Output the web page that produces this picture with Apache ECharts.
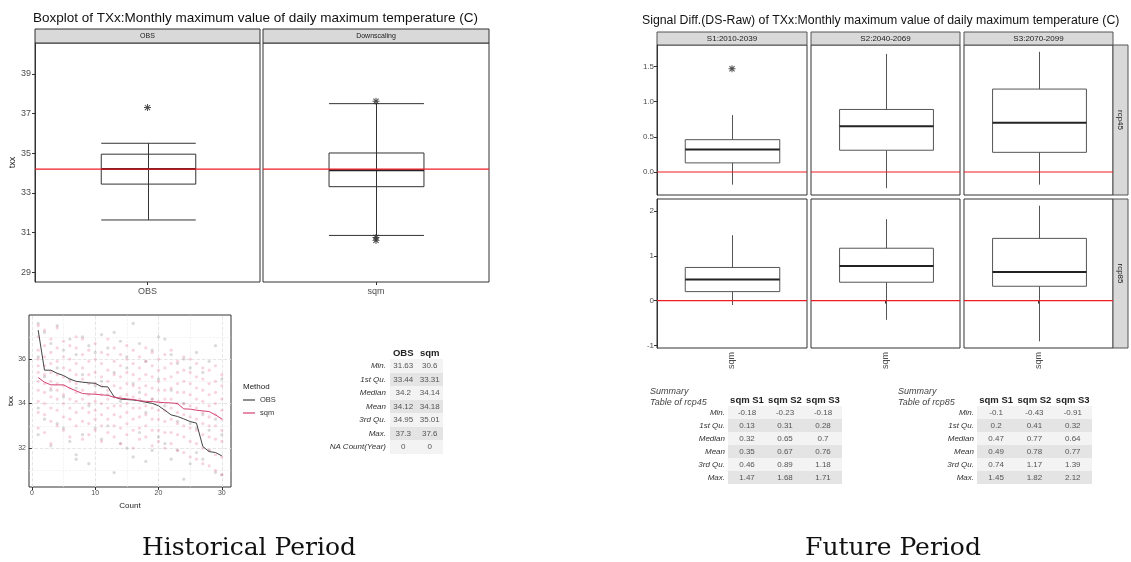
<!DOCTYPE html>
<html><head><meta charset="utf-8">
<script src="https://cdn.jsdelivr.net/npm/echarts@6/dist/echarts.min.js"></script>
<style>
html,body{margin:0;padding:0;background:#fff;}
#wrap{position:relative;width:1131px;height:562px;overflow:hidden;background:#fff;}
#chart{position:absolute;left:0;top:0;width:1131px;height:562px;}
table.st{position:absolute;border-collapse:collapse;table-layout:fixed;font-family:'Liberation Sans',Arial,sans-serif;font-size:8px;color:#555;}
table.st td,table.st th{padding:0;text-align:center;white-space:nowrap;overflow:visible;}
table.st th{font-weight:bold;color:#222;font-size:9.5px;}
table.st td.lab{text-align:right;font-style:italic;color:#333;}
table.st tr.r0 td.v{background:#f3f3f3;}
table.st tr.r1 td.v{background:#e4e4e4;}
.cap{position:absolute;font-family:'Liberation Sans',Arial,sans-serif;font-style:italic;font-size:9px;color:#444;line-height:11px;white-space:nowrap;}
</style></head>
<body><div id="wrap"><div id="chart"></div></div>
<script>
// ---------------- DATA ----------------
const histPanels = ['OBS', 'Downscaling'];
const histCategories = ['OBS', 'sqm'];
const obsBox = [31.63, 33.44, 34.2, 34.95, 35.5];      // min, q1, median, q3, max (whisker)
const sqmBox = [30.85, 33.31, 34.14, 35.01, 37.5];
const obsOutliers = [37.3];
const sqmOutliers = [37.62, 30.75, 30.6];
const histRefLine = 34.2;
const histTicks = [29, 31, 33, 35, 37, 39];

const countX = [1,2,3,4,5,6,7,8,9,10,11,12,13,14,15,16,17,18,19,20,21,22,23,24,25,26,27,28,29,30];
const obsSorted = [37.3,35.5,35.5,35.36,35.26,35.1,35.0,34.96,34.93,34.91,34.76,34.75,34.3,34.2,34.18,34.16,34.12,34.06,34.01,33.9,33.7,33.49,33.42,33.31,33.19,33.12,32.07,31.84,31.8,31.65];
const sqmSorted = [35.17,34.96,34.84,34.84,34.84,34.69,34.57,34.45,34.43,34.42,34.39,34.37,34.28,34.24,34.21,34.18,34.13,34.1,34.09,34.06,34.04,34.03,34.0,33.76,33.75,33.7,33.67,33.64,33.49,33.31];
const sqmPoints = [
 [37.5,37.0,36.4,36.0,35.7,35.4,35.0,34.6,34.1,33.6,32.9],
 [37.3,36.6,36.1,35.7,35.3,34.9,34.5,34.0,33.5,32.7],
 [36.9,36.3,35.8,35.4,35.0,34.7,34.3,33.8,33.2,32.2],
 [37.4,36.5,35.9,35.3,34.9,34.6,34.2,33.7,33.0],
 [36.8,36.1,35.6,35.2,34.8,34.4,34.0,33.4,32.8],
 [36.6,36.0,35.5,35.0,34.7,34.2,33.8,33.3,32.5],
 [37.0,36.5,35.8,35.3,34.9,34.5,34.1,33.6,33.0],
 [36.9,36.2,35.6,35.1,34.6,34.2,33.8,33.2,32.4],
 [36.4,35.9,35.3,34.9,34.4,34.0,33.6,33.1,32.6],
 [36.7,36.0,35.4,34.9,34.5,34.1,33.7,33.3,32.8],
 [36.3,35.8,35.2,34.8,34.4,34.0,33.5,33.0,32.3],
 [36.9,36.2,35.5,35.0,34.6,34.2,33.8,33.3,32.7],
 [36.5,35.9,35.3,34.8,34.3,33.9,33.5,33.0,32.5],
 [36.2,35.7,35.2,34.7,34.3,33.9,33.4,32.9,32.2],
 [36.6,36.0,35.4,34.9,34.4,34.0,33.6,33.1,32.6],
 [36.4,35.8,35.3,34.8,34.3,33.8,33.3,32.8,32.0],
 [36.1,35.6,35.1,34.7,34.2,33.8,33.4,32.9,32.4],
 [36.5,35.9,35.3,34.8,34.4,33.9,33.5,33.0,32.5],
 [36.3,35.7,35.2,34.7,34.2,33.8,33.3,32.8,32.1],
 [36.0,35.5,35.0,34.6,34.1,33.7,33.3,32.8,32.3],
 [36.2,35.6,35.1,34.6,34.2,33.7,33.2,32.7,32.0],
 [36.4,35.8,35.2,34.7,34.2,33.8,33.3,32.7,32.2],
 [35.9,35.4,34.9,34.5,34.0,33.6,33.1,32.6,31.9],
 [36.1,35.5,35.0,34.5,34.0,33.5,33.0,32.5,31.8],
 [36.0,35.4,34.9,34.4,33.9,33.4,32.9,32.3,31.6],
 [35.8,35.2,34.7,34.2,33.8,33.3,32.8,32.2,31.5],
 [35.6,35.1,34.6,34.1,33.6,33.1,32.6,32.0,31.3],
 [35.5,34.9,34.4,33.9,33.4,33.0,32.5,31.9,31.2],
 [35.7,35.0,34.5,34.0,33.5,33.0,32.4,31.7,31.0],
 [35.3,34.8,34.2,33.7,33.3,32.8,32.3,31.6,30.8]
];
const greyPoints = [
 [37.6,36.1,33.8,32.6],[37.2,35.2,33.3],[36.7,34.6,32.1],[37.5,35.6,33.1],[36.4,34.3,32.9],
 [36.9,35.1,32.3],[36.2,34.7,31.7,31.5],[37.0,35.3,32.6],[36.6,33.9,31.3],[36.3,34.8,32.9],
 [37.1,35.0,32.4],[36.5,34.4,33.0],[37.2,35.4,30.9],[36.8,34.1,32.2],[36.1,35.6,32.0],
 [37.6,34.9,31.6],[36.7,34.5,32.7],[35.9,33.6,31.4],[36.4,34.2,31.9],[37.0,35.1,32.5],
 [36.9,33.9,32.2],[36.2,34.6,31.5],[35.8,33.2,31.9],[36.0,34.0,30.6],[35.6,33.1,31.3],
 [36.3,32.9,31.8],[35.4,33.5,31.5],[35.9,32.8,31.9],[36.6,33.3,30.9],[35.1,32.6,30.8]
];
const scatterXTicks = [0, 10, 20, 30];
const scatterYTicks = [32, 34, 36];
const scatterXMinor = [5, 15, 25];
const scatterYMinor = [31, 33, 35, 37];

const futPeriods = ['S1:2010-2039', 'S2:2040-2069', 'S3:2070-2099'];
const futScenarios = ['rcp45', 'rcp85'];
const futCategory = ['sqm'];
const rcp45Box = [[-0.18,0.13,0.32,0.46,0.81],[-0.23,0.31,0.65,0.89,1.68],[-0.18,0.28,0.7,1.18,1.71]];
const rcp85Box = [[-0.1,0.2,0.47,0.74,1.46],[-0.43,0.41,0.77,1.17,1.82],[-0.91,0.32,0.64,1.39,2.12]];
const rcp45Outliers = [[1.47], [], []];
const rcp85Outliers = [[], [], []];
const futRefLine = 0;
const rcp45Ticks = [0, 0.5, 1, 1.5];
const rcp85Ticks = [-1, 0, 1, 2];

const histStatLabels = ['Min.','1st Qu.','Median','Mean','3rd Qu.','Max.','NA Count(Year)'];
const histStatObs = ['31.63','33.44','34.2','34.12','34.95','37.3','0'];
const histStatSqm = ['30.6','33.31','34.14','34.18','35.01','37.6','0'];
const futStatLabels = ['Min.','1st Qu.','Median','Mean','3rd Qu.','Max.'];
const futStatHeaders = ['sqm S1','sqm S2','sqm S3'];
const rcp45StatS1 = ['-0.18','0.13','0.32','0.35','0.46','1.47'];
const rcp45StatS2 = ['-0.23','0.31','0.65','0.67','0.89','1.68'];
const rcp45StatS3 = ['-0.18','0.28','0.7','0.76','1.18','1.71'];
const rcp85StatS1 = ['-0.1','0.2','0.47','0.49','0.74','1.45'];
const rcp85StatS2 = ['-0.43','0.41','0.77','0.78','1.17','1.82'];
const rcp85StatS3 = ['-0.91','0.32','0.64','0.77','1.39','2.12'];

const histTitle = 'Boxplot of TXx:Monthly maximum value of daily maximum temperature (C)';
const futTitle = 'Signal Diff.(DS-Raw) of TXx:Monthly maximum value of daily maximum temperature (C)';

// ---------------- TABLES (HTML) ----------------
function buildTable(left, top, labW, labPad, colW, headers, labels, cols, rowH, headH){
  let h = '<table class="st" style="left:'+left+'px;top:'+top+'px;width:'+(labW+colW*headers.length)+'px">';
  h += '<colgroup><col style="width:'+labW+'px">' + headers.map(()=>'<col style="width:'+colW+'px">').join('') + '</colgroup>';
  h += '<tr style="height:'+headH+'px"><th></th>' + headers.map(t=>'<th>'+t+'</th>').join('') + '</tr>';
  labels.forEach((l,i)=>{
    h += '<tr class="r'+(i%2)+'" style="height:'+rowH+'px"><td class="lab" style="padding-right:'+labPad+'px">'+l+'</td>' +
         cols.map(c=>'<td class="v">'+c[i]+'</td>').join('') + '</tr>';
  });
  return h + '</table>';
}
const wrap = document.getElementById('wrap');
wrap.insertAdjacentHTML('beforeend', buildTable(312, 345, 78, 4, 26.5, histCategories, histStatLabels, [histStatObs, histStatSqm], 13.5, 14));
wrap.insertAdjacentHTML('beforeend', buildTable(660, 392, 68, 3, 38, futStatHeaders, futStatLabels, [rcp45StatS1, rcp45StatS2, rcp45StatS3], 13, 14));
wrap.insertAdjacentHTML('beforeend', buildTable(909, 392, 68, 3, 38.3, futStatHeaders, futStatLabels, [rcp85StatS1, rcp85StatS2, rcp85StatS3], 13, 14));
wrap.insertAdjacentHTML('beforeend', '<div class="cap" style="left:650px;top:386px">Summary<br>Table of rcp45</div>');
wrap.insertAdjacentHTML('beforeend', '<div class="cap" style="left:898px;top:386px">Summary<br>Table of rcp85</div>');

// ---------------- CHART ----------------
const chart = echarts.init(document.getElementById('chart'), null, {renderer:'canvas'});
const FONT = '"Liberation Sans", Arial, sans-serif';
const STAR = 'path://M-0.7,-5 L0.7,-5 L0.7,5 L-0.7,5 Z M-5,-0.7 L5,-0.7 L5,0.7 L-5,0.7 Z M-4.2,-3.2 L-3.2,-4.2 L4.2,3.2 L3.2,4.2 Z M3.2,-4.2 L4.2,-3.2 L-3.2,4.2 L-4.2,3.2 Z';

function boxRender(cfg){
  return function(params, api){
    const xi = api.value(0);
    const lo = api.value(1), q1 = api.value(2), md = api.value(3), q3 = api.value(4), hi = api.value(5);
    const band = api.size([1, 0])[0];
    const hw = band * cfg.ratio / 2;
    const cx = Math.round(api.coord([xi, md])[0]) + 0.5;
    const yLo = api.coord([xi, lo])[1], yQ1 = api.coord([xi, q1])[1], yMd = api.coord([xi, md])[1];
    const yQ3 = api.coord([xi, q3])[1], yHi = api.coord([xi, hi])[1];
    const st = {stroke: cfg.color, lineWidth: cfg.lw, fill: null};
    const ch = [];
    ch.push({type:'rect', shape:{x:cx-hw, y:yQ3, width:2*hw, height:yQ1-yQ3}, style:{fill:'#fff', stroke:cfg.color, lineWidth:cfg.lw}});
    if (cfg.through) {
      ch.push({type:'line', shape:{x1:cx, y1:yHi, x2:cx, y2:yLo}, style:st});
    } else {
      ch.push({type:'line', shape:{x1:cx, y1:yQ3, x2:cx, y2:yHi}, style:st});
      ch.push({type:'line', shape:{x1:cx, y1:yQ1, x2:cx, y2:yLo}, style:st});
    }
    ch.push({type:'line', shape:{x1:cx-hw, y1:yMd, x2:cx+hw, y2:yMd}, style:{stroke:cfg.medColor, lineWidth:cfg.medW}});
    if (cfg.caps) {
      ch.push({type:'line', shape:{x1:cx-hw, y1:yHi, x2:cx+hw, y2:yHi}, style:st});
      ch.push({type:'line', shape:{x1:cx-hw, y1:yLo, x2:cx+hw, y2:yLo}, style:st});
    }
    return {type:'group', children:ch};
  };
}
// horizontal reference line across the whole panel, placed through the value axis
function refRender(params, api){
  const cs = params.coordSys;
  const y = api.coord([0, api.value(1)])[1];
  return {type:'line', shape:{x1:cs.x, y1:y, x2:cs.x + cs.width, y2:y},
    style:{stroke:'#f01c24', lineWidth:1.2}};
}

const grids = [], xAxes = [], yAxes = [], series = [], graphics = [];
function addGrid(g){ grids.push(Object.assign({show:true, borderColor:'#333', borderWidth:1, backgroundColor:'#fff', outerBoundsMode:'none', containLabel:false}, g)); return grids.length - 1; }
function refSeries(gi, v){
  return {type:'custom', xAxisIndex:gi, yAxisIndex:gi, renderItem:refRender, data:[[0, v]], encode:{x:0, y:1}, z:10, silent:true};
}

// Historical boxplots
const histBoxes = [obsBox, sqmBox];
const histOut = [obsOutliers, sqmOutliers];
const histGeo = [{left:35, width:225}, {left:263, width:226}];
histGeo.forEach((geo, i) => {
  const gi = addGrid({left:geo.left, top:43, width:geo.width, height:239});
  xAxes.push({gridIndex:gi, type:'category', data:[histCategories[i]], axisLine:{show:false},
    axisTick:{show:true, alignWithLabel:true, length:3, lineStyle:{color:'#333'}},
    axisLabel:{fontSize:9, color:'#4d4d4d', margin:5, fontFamily:FONT}});
  yAxes.push({gridIndex:gi, type:'value', min:28.5, max:40.56, splitLine:{show:false},
    axisLine:{show:i===0, lineStyle:{color:'#333'}},
    axisTick:{show:i===0, length:3, customValues:histTicks, lineStyle:{color:'#333'}},
    axisLabel:{show:i===0, customValues:histTicks, fontSize:9, color:'#4d4d4d', margin:4, fontFamily:FONT},
    name:i===0?'txx':'', nameLocation:'middle', nameGap:18, nameTextStyle:{fontSize:9, color:'#222', fontFamily:FONT}});
  series.push({type:'custom', xAxisIndex:gi, yAxisIndex:gi, renderItem:boxRender({ratio:0.42, color:'#333', lw:1, medColor:'#222', medW:2, caps:true, through:true}),
    data:[[0].concat(histBoxes[i])], encode:{x:0, y:[1,2,3,4,5]}, z:2});
  series.push({type:'scatter', xAxisIndex:gi, yAxisIndex:gi, symbol:STAR, symbolSize:7, itemStyle:{color:'#222'},
    data:histOut[i].map(v=>[0, v]), z:3});
  series.push(refSeries(gi, histRefLine));
  graphics.push({type:'rect', shape:{x:geo.left, y:29, width:geo.width, height:14}, style:{fill:'#d9d9d9', stroke:'#333', lineWidth:1}});
  graphics.push({type:'text', x:geo.left+geo.width/2, y:36, style:{text:histPanels[i], font:'7px '+FONT, fill:'#1a1a1a', align:'center', verticalAlign:'middle'}});
});

// Scatter / line plot
{
  const gi = addGrid({left:29, top:315, width:202, height:172});
  xAxes.push({gridIndex:gi, type:'value', min:-0.45, max:31.45, splitLine:{show:false}, axisLine:{show:false},
    axisTick:{show:true, length:3, customValues:scatterXTicks, lineStyle:{color:'#333'}},
    axisLabel:{customValues:scatterXTicks, fontSize:7, color:'#4d4d4d', margin:3, fontFamily:FONT},
    name:'Count', nameLocation:'middle', nameGap:15, nameTextStyle:{fontSize:8, color:'#222', fontFamily:FONT}});
  yAxes.push({gridIndex:gi, type:'value', min:30.25, max:37.98, splitLine:{show:false}, axisLine:{show:false},
    axisTick:{show:true, length:3, customValues:scatterYTicks, lineStyle:{color:'#333'}},
    axisLabel:{customValues:scatterYTicks, fontSize:7, color:'#4d4d4d', margin:3, fontFamily:FONT},
    name:'txx', nameLocation:'middle', nameGap:14, nameTextStyle:{fontSize:8, color:'#222', fontFamily:FONT}});
  const gridMarks = [];
  scatterXTicks.forEach(v=>gridMarks.push({xAxis:v, lineStyle:{color:'#e3e3e3', width:0.9}}));
  scatterYTicks.forEach(v=>gridMarks.push({yAxis:v, lineStyle:{color:'#e3e3e3', width:0.9}}));
  scatterXMinor.forEach(v=>gridMarks.push({xAxis:v, lineStyle:{color:'#ededed', width:0.6}}));
  scatterYMinor.forEach(v=>gridMarks.push({yAxis:v, lineStyle:{color:'#ededed', width:0.6}}));
  const greyData = [], pinkData = [];
  countX.forEach((c, i) => {
    greyPoints[i].forEach(v => greyData.push([c, v]));
    sqmPoints[i].forEach(v => pinkData.push([c, v]));
  });
  series.push({name:'gridlines', type:'scatter', xAxisIndex:gi, yAxisIndex:gi, data:[], z:0,
    markLine:{silent:true, symbol:'none', label:{show:false}, data:gridMarks, animation:false, z:0}});
  series.push({name:'OBS points', type:'scatter', xAxisIndex:gi, yAxisIndex:gi, symbolSize:3.2, z:1,
    itemStyle:{color:'rgba(90,90,90,0.28)'}, data:greyData});
  series.push({name:'sqm points', type:'scatter', xAxisIndex:gi, yAxisIndex:gi, symbolSize:3.2, z:1,
    itemStyle:{color:'rgba(225,80,125,0.3)'}, data:pinkData});
  series.push({name:'OBS', type:'line', xAxisIndex:gi, yAxisIndex:gi, showSymbol:false, symbol:'none', z:3,
    lineStyle:{color:'#444', width:1}, itemStyle:{color:'#444'}, data:countX.map((c,i)=>[c, obsSorted[i]])});
  series.push({name:'sqm', type:'line', xAxisIndex:gi, yAxisIndex:gi, showSymbol:false, symbol:'none', z:3,
    lineStyle:{color:'#d4426f', width:1}, itemStyle:{color:'#d4426f'}, data:countX.map((c,i)=>[c, sqmSorted[i]])});
  graphics.push({type:'text', x:243, y:387, style:{text:'Method', font:'8px '+FONT, fill:'#222', verticalAlign:'middle'}});
}

// Future facets
const futBoxes = [rcp45Box, rcp85Box];
const futOut = [rcp45Outliers, rcp85Outliers];
const futCols = [{left:657, width:150}, {left:811, width:149}, {left:964, width:149}];
const futRows = [{top:45, height:150, min:-0.327, max:1.807, ticks:rcp45Ticks, fmt:v=>v.toFixed(1)},
                 {top:199, height:149, min:-1.06, max:2.27, ticks:rcp85Ticks, fmt:v=>String(v)}];
futRows.forEach((row, r) => {
  futCols.forEach((col, c) => {
    const gi = addGrid({left:col.left, top:row.top, width:col.width, height:row.height});
    const bottomRow = r === 1;
    xAxes.push({gridIndex:gi, type:'category', data:futCategory, axisLine:{show:false},
      axisTick:{show:bottomRow, alignWithLabel:true, length:3, lineStyle:{color:'#333'}},
      axisLabel:{show:bottomRow, rotate:90, fontSize:9, color:'#4d4d4d', margin:4, fontFamily:FONT}});
    yAxes.push({gridIndex:gi, type:'value', min:row.min, max:row.max, splitLine:{show:false},
      axisLine:{show:c===0, lineStyle:{color:'#333'}},
      axisTick:{show:c===0, length:3, customValues:row.ticks, lineStyle:{color:'#333'}},
      axisLabel:{show:c===0, customValues:row.ticks, formatter:row.fmt, fontSize:8, color:'#4d4d4d', margin:3, fontFamily:FONT}});
    series.push({type:'custom', xAxisIndex:gi, yAxisIndex:gi, renderItem:boxRender({ratio:0.63, color:'#555', lw:1, medColor:'#222', medW:2, caps:false, through:false}),
      data:[[0].concat(futBoxes[r][c])], encode:{x:0, y:[1,2,3,4,5]}, z:2});
    series.push({type:'scatter', xAxisIndex:gi, yAxisIndex:gi, symbol:STAR, symbolSize:7, itemStyle:{color:'#222'},
      data:futOut[r][c].map(v=>[0, v]), z:3});
    series.push(refSeries(gi, futRefLine));
  });
  graphics.push({type:'rect', shape:{x:1113, y:row.top, width:15, height:row.height}, style:{fill:'#d9d9d9', stroke:'#555', lineWidth:1}});
  graphics.push({type:'text', x:1120.5, y:row.top+row.height/2, rotation:-Math.PI/2,
    style:{text:futScenarios[r], font:'8px '+FONT, fill:'#1a1a1a', align:'center', verticalAlign:'middle'}});
});
futCols.forEach((col, c) => {
  graphics.push({type:'rect', shape:{x:col.left, y:32, width:col.width, height:13}, style:{fill:'#d9d9d9', stroke:'#555', lineWidth:1}});
  graphics.push({type:'text', x:col.left+col.width/2, y:38.5, style:{text:futPeriods[c], font:'8px '+FONT, fill:'#1a1a1a', align:'center', verticalAlign:'middle'}});
});

// Titles & captions
graphics.push({type:'text', x:33, y:18, style:{text:histTitle, font:'13.5px '+FONT, fill:'#111', verticalAlign:'middle'}});
graphics.push({type:'text', x:642, y:21, style:{text:futTitle, font:'12.3px '+FONT, fill:'#111', verticalAlign:'middle'}});
graphics.push({type:'text', x:249, y:548, style:{text:'Historical Period', font:'25px "DejaVu Serif", serif', fill:'#111', align:'center', verticalAlign:'middle'}});
graphics.push({type:'text', x:893, y:548, style:{text:'Future Period', font:'25px "DejaVu Serif", serif', fill:'#111', align:'center', verticalAlign:'middle'}});

chart.setOption({
  animation:false,
  backgroundColor:'#fff',
  textStyle:{fontFamily:FONT},
  grid:grids, xAxis:xAxes, yAxis:yAxes, series:series,
  legend:{data:['OBS','sqm'], left:243, top:396, orient:'vertical', padding:0, icon:'rect', itemWidth:12, itemHeight:1.2, itemGap:5,
    textStyle:{fontSize:7.5, color:'#333', fontFamily:FONT}, selectedMode:false},
  graphic:graphics
});
</script>
</body></html>
